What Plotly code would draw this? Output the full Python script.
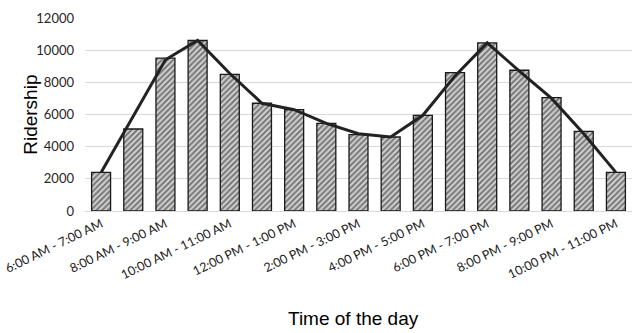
import plotly.graph_objects as go

# Hourly ridership slots
time_slots = [
    "6:00 AM - 7:00 AM", "7:00 AM - 8:00 AM", "8:00 AM - 9:00 AM",
    "9:00 AM - 10:00 AM", "10:00 AM - 11:00 AM", "11:00 AM - 12:00 PM",
    "12:00 PM - 1:00 PM", "1:00 PM - 2:00 PM", "2:00 PM - 3:00 PM",
    "3:00 PM - 4:00 PM", "4:00 PM - 5:00 PM", "5:00 PM - 6:00 PM",
    "6:00 PM - 7:00 PM", "7:00 PM - 8:00 PM", "8:00 PM - 9:00 PM",
    "9:00 PM - 10:00 PM", "10:00 PM - 11:00 PM",
]
ridership_bars = [2400, 5100, 9500, 10600, 8500, 6700, 6300, 5450, 4750,
                  4600, 5950, 8600, 10450, 8750, 7050, 4950, 2400]
ridership_line = [2400, 5900, 9400, 10600, 8550, 6700, 6300, 5450, 4800,
                  4600, 5950, 8400, 10450, 8700, 7000, 4800, 2400]
y_ticks = [0, 2000, 4000, 6000, 8000, 10000, 12000]
y_tick_text = ["0", "2000", "4000", "6000", "8000", "10000", "12000"]
shown_labels = time_slots[::2]

tick_font = "Lato, Liberation Sans, Arial, sans-serif"

fig = go.Figure()
fig.add_trace(go.Bar(
    x=time_slots, y=ridership_bars,
    marker=dict(
        color="#ffffff",
        line=dict(color="#1a1a1a", width=1.3),
        pattern=dict(shape="/", fgcolor="#1a1a1a", bgcolor="#d2d2d2",
                     size=4, solidity=0.5),
    ),
    showlegend=False,
))
fig.add_trace(go.Scatter(
    x=time_slots, y=ridership_line, mode="lines",
    line=dict(color="#222222", width=3),
    showlegend=False,
))

fig.update_layout(
    width=634, height=333, autosize=False,
    margin=dict(l=85, r=2, t=18, b=122),
    paper_bgcolor="white", plot_bgcolor="white",
    bargap=0.41,
    font=dict(family=tick_font, color="#404040"),
    xaxis=dict(
        type="category", automargin=False,
        tickmode="array", tickvals=shown_labels, ticktext=shown_labels,
        tickangle=-26, tickfont=dict(size=12.5, color="#202020",
                                     family=tick_font),
        showgrid=False, showline=True, linecolor="#d9d9d9", linewidth=1,
        ticks="",
    ),
    yaxis=dict(
        range=[0, 12000], tickmode="array", tickvals=y_ticks,
        ticktext=y_tick_text, automargin=False,
        tickfont=dict(size=13, color="#262626", family=tick_font),
        showgrid=True, gridcolor="#d9d9d9", gridwidth=1.3,
        zeroline=False, ticklabelstandoff=10,
    ),
    annotations=[
        dict(text="Ridership", xref="paper", yref="paper", x=-0.1, y=0.5,
             xanchor="center", yanchor="middle", textangle=-90,
             showarrow=False, font=dict(size=19, color="#000000",
                                        family="Liberation Sans, Arial")),
        dict(text="Time of the day", xref="paper", yref="paper", x=0.49,
             y=-0.555, xanchor="center", yanchor="middle", showarrow=False,
             font=dict(size=19, color="#000000",
                       family="Liberation Sans, Arial")),
    ],
)

fig.write_html("out.html")
